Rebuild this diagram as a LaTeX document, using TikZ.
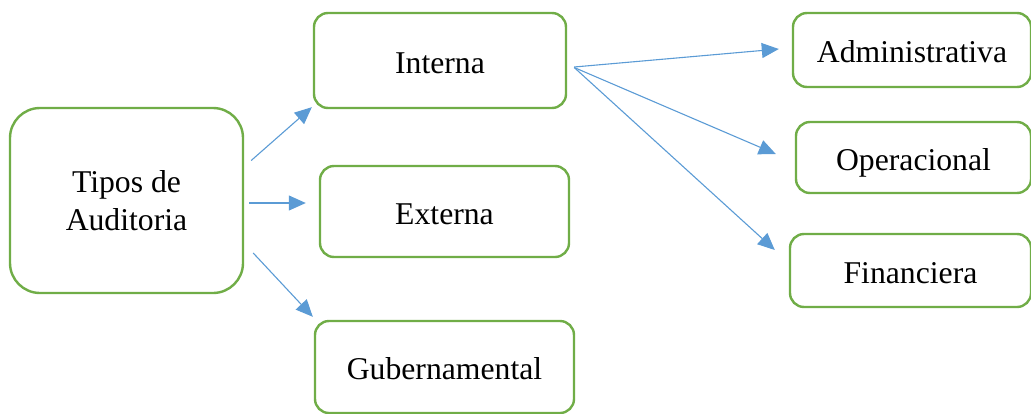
\documentclass[tikz,border=0pt]{standalone}
\usepackage{fontspec}
\setmainfont{Liberation Serif}
\usetikzlibrary{arrows.meta,calc}
\definecolor{boxgreen}{HTML}{70AD47}
\definecolor{arrowblue}{HTML}{5B9BD5}
\tikzset{
  box/.style={draw=boxgreen, line width=2.4pt, rounded corners=14pt,
    fill=white, inner sep=0pt, align=center,
    font=\fontsize{31.7}{38}\selectfont,
    text height=25pt, text depth=0pt},
  bigbox/.style={box, rounded corners=30pt, text height=, text depth=},
  arr/.style={draw=arrowblue, line width=1.1pt,
    -{Triangle[length=17pt,width=15pt]}}
}
\begin{document}
\begin{tikzpicture}[x=1pt,y=-1pt]
  \useasboundingbox (0,0) rectangle (1031,413);
  % root
  \node[bigbox, minimum width=233pt, minimum height=185pt] (tipos) at (126.5,200.5) {Tipos de\\Auditoria};
  % first level
  \node[box, minimum width=252pt, minimum height=95pt] (interna) at (440,60.5) {Interna};
  \node[box, minimum width=249pt, minimum height=91pt] (externa) at (444.5,211.5) {Externa};
  \node[box, minimum width=259pt, minimum height=92pt] (guber) at (444.5,367) {Gubernamental};
  % second level (under Interna)
  \node[box, minimum width=238pt, minimum height=74pt] (admin) at (912,50) {Administrativa};
  \node[box, minimum width=235pt, minimum height=71pt] (oper) at (913.5,157.5) {Operacional};
  \node[box, minimum width=241pt, minimum height=73pt] (finan) at (910.5,270.5) {Financiera};
  % connectors from the root
  \draw[arr] ($(tipos.east)+(7,-40)$) -- ($(interna.south west)+(-1,-2)$);
  \draw[arr] ($(tipos.east)+(5,2.5)$) -- ($(externa.west)+(-13,-8.5)$);
  \draw[arr] ($(tipos.east)+(9,52.5)$) -- ($(guber.north west)+(-1,-3)$);
  % connectors from Interna
  \draw[arr] ($(interna.east)+(7,6.5)$) -- ($(admin.west)+(-13,-1)$);
  \draw[arr] ($(interna.east)+(7,7)$) -- ($(oper.west)+(-19,-3.5)$);
  \draw[arr] ($(interna.east)+(7,7)$) -- ($(finan.west)+(-14,-20.5)$);
\end{tikzpicture}
\end{document}
